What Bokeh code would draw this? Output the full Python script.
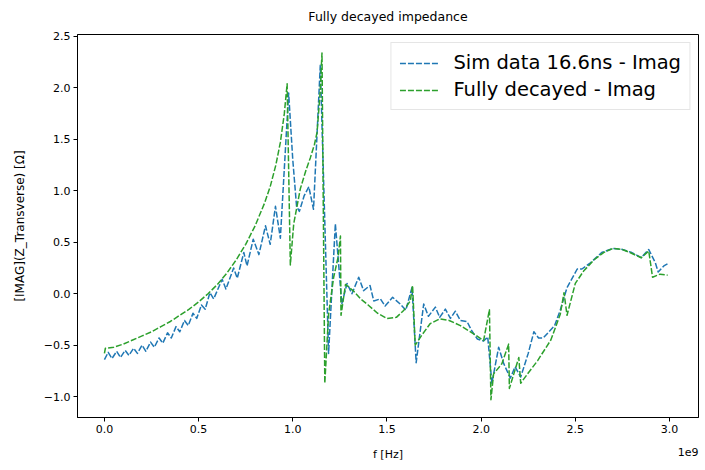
from bokeh.plotting import figure
from bokeh.models import Range1d, FixedTicker, Legend, LegendItem, Title, CustomJSTickFormatter
from bokeh.embed import file_html
from bokeh.resources import INLINE

# Frequency in units of 1e9 Hz
b_freq = [0.000, 0.02, 0.04, 0.065, 0.085, 0.11, 0.13, 0.155, 0.175, 0.20, 0.22, 0.245, 0.265,
          0.29, 0.31, 0.335, 0.355, 0.38, 0.40, 0.425, 0.445, 0.47, 0.49, 0.515, 0.535, 0.56,
          0.58, 0.625, 0.645, 0.686, 0.705, 0.74, 0.757, 0.79, 0.82, 0.855, 0.88, 0.908, 0.934,
          0.978, 1.0, 1.02, 1.035, 1.06, 1.085, 1.11, 1.146, 1.19, 1.226, 1.245, 1.26, 1.288,
          1.314, 1.35, 1.376, 1.41, 1.43, 1.465, 1.49, 1.53, 1.57, 1.60, 1.633, 1.655, 1.695,
          1.72, 1.757, 1.78, 1.81, 1.837, 1.863, 1.89, 1.925, 1.95, 1.98, 2.013, 2.035, 2.057,
          2.093, 2.12, 2.155, 2.18, 2.21, 2.25, 2.28, 2.305, 2.33, 2.36, 2.39, 2.42, 2.456,
          2.51, 2.535, 2.58, 2.64, 2.70, 2.75, 2.80, 2.85, 2.89, 2.925, 2.94, 2.97, 2.99]
b_imag = [-0.64, -0.57, -0.63, -0.56, -0.62, -0.55, -0.60, -0.53, -0.58, -0.50, -0.56, -0.47, -0.52,
          -0.43, -0.48, -0.38, -0.43, -0.32, -0.37, -0.26, -0.31, -0.19, -0.24, -0.11, -0.15, 0.01,
          -0.05, 0.14, 0.045, 0.25, 0.15, 0.40, 0.27, 0.53, 0.38, 0.66, 0.48, 0.85, 0.54,
          1.95, 1.30, 0.85, 0.80, 0.95, 1.04, 0.82, 2.22, -0.58, 0.68, 0.25, -0.10, 0.10,
          0.00, 0.16, 0.03, 0.08, -0.07, -0.05, -0.12, -0.035, -0.10, -0.16, 0.06, -0.67, -0.10,
          -0.22, -0.13, -0.23, -0.15, -0.24, -0.17, -0.26, -0.27, -0.36, -0.44, -0.46, -0.42, -0.87,
          -0.52, -0.68, -0.82, -0.71, -0.81, -0.58, -0.37, -0.43, -0.43, -0.37, -0.31, -0.16, 0.06,
          0.24, 0.24, 0.30, 0.40, 0.44, 0.43, 0.40, 0.35, 0.43, 0.30, 0.21, 0.27, 0.29]

g_freq = [0.000, 0.005, 0.05, 0.10, 0.15, 0.20, 0.25, 0.30, 0.35, 0.40, 0.45, 0.50, 0.55, 0.60,
          0.65, 0.70, 0.75, 0.80, 0.85, 0.88, 0.91, 0.934, 0.955, 0.970, 0.987, 1.005, 1.04,
          1.07, 1.093, 1.115, 1.129, 1.145, 1.155, 1.170, 1.19, 1.217, 1.24, 1.253, 1.256, 1.28,
          1.32, 1.36, 1.40, 1.45, 1.50, 1.55, 1.59, 1.624, 1.636, 1.650, 1.686, 1.73, 1.78, 1.83,
          1.89, 1.96, 2.013, 2.044, 2.052, 2.066, 2.11, 2.146, 2.15, 2.18, 2.20, 2.21, 2.25, 2.30,
          2.37, 2.42, 2.44, 2.456, 2.50, 2.544, 2.60, 2.65, 2.70, 2.75, 2.79, 2.85, 2.89, 2.91,
          2.95, 2.99]
g_imag = [-0.58, -0.53, -0.52, -0.49, -0.45, -0.41, -0.37, -0.32, -0.27, -0.21, -0.15, -0.08, 0.00,
          0.09, 0.20, 0.33, 0.48, 0.66, 0.88, 1.04, 1.25, 1.47, 1.75, 2.04, 0.28, 0.68, 1.02,
          1.20, 1.32, 1.45, 1.57, 1.95, 2.34, -0.87, -0.20, 0.16, 0.35, 0.56, -0.21, 0.09,
          0.03, -0.05, -0.11, -0.19, -0.24, -0.23, -0.16, -0.07, 0.08, -0.50, -0.40, -0.29, -0.245,
          -0.26, -0.31, -0.39, -0.455, -0.155, -1.03, -0.78, -0.68, -0.49, -0.92, -0.74, -0.62,
          -0.87, -0.77, -0.65, -0.45, -0.20, 0.01, -0.21, 0.10, 0.22, 0.33, 0.40, 0.44, 0.43, 0.40,
          0.35, 0.415, 0.16, 0.19, 0.18]

x_ticks = [0.0, 0.5, 1.0, 1.5, 2.0, 2.5, 3.0]
y_ticks = [-1.0, -0.5, 0.0, 0.5, 1.0, 1.5, 2.0, 2.5]

FONT = "DejaVu Sans"

p = figure(width=705, height=470, output_backend="svg", toolbar_location=None,
           x_range=Range1d(-0.143, 3.154), y_range=Range1d(-1.203, 2.519),
           min_border_left=77, min_border_right=7, min_border_top=32, min_border_bottom=53,
           title="Fully decayed impedance")
p.title.align = "center"
p.title.vertical_align = "top"
p.title.text_font = FONT
p.title.text_font_size = "12.5px"
p.title.text_font_style = "normal"
p.title.text_color = "black"
p.title.standoff = 17

p.grid.visible = False
p.outline_line_color = "black"
p.outline_line_alpha = 1
p.outline_line_width = 1
p.background_fill_color = "white"
p.border_fill_color = "white"

fmt = CustomJSTickFormatter(code="return (tick < 0 ? '\\u2212' : '') + Math.abs(tick).toFixed(1);")
for ax, ticks in ((p.xaxis[0], x_ticks), (p.yaxis[0], y_ticks)):
    ax.ticker = FixedTicker(ticks=ticks)
    ax.formatter = fmt
    ax.major_tick_in = 0
    ax.major_tick_out = 4
    ax.minor_tick_in = 0
    ax.minor_tick_out = 0
    ax.axis_line_color = "black"
    ax.major_tick_line_color = "black"
    ax.major_label_text_font = FONT
    ax.major_label_text_font_size = "11px"
    ax.major_label_text_color = "black"
    ax.major_label_standoff = 3
    ax.axis_label_text_font = FONT
    ax.axis_label_text_font_size = "11px"
    ax.axis_label_text_font_style = "normal"
    ax.axis_label_text_color = "black"

p.xaxis[0].axis_label = "f [Hz]"
p.xaxis[0].axis_label_standoff = 12
p.yaxis[0].axis_label = "[IMAG](Z_Transverse) [Ω]"
p.yaxis[0].axis_label_text_font_size = "12px"
p.yaxis[0].axis_label_standoff = 14

r1 = p.line(b_freq, b_imag, line_color="#1f77b4", line_width=1.5, line_dash="6 2", line_join="round")
r2 = p.line(g_freq, g_imag, line_color="#2ca02c", line_width=1.5, line_dash="6 2", line_join="round")

legend = Legend(items=[LegendItem(label="Sim data 16.6ns - Imag", renderers=[r1]),
                       LegendItem(label="Fully decayed - Imag", renderers=[r2])],
                location="top_right")
legend.label_text_font = FONT
legend.label_text_font_size = "19.5px"
legend.label_text_color = "black"
legend.glyph_width = 40
legend.glyph_height = 20
legend.label_height = 20
legend.label_standoff = 14
legend.padding = 8
legend.spacing = 4
legend.margin = 8
legend.border_line_color = "#cccccc"
legend.border_line_width = 1
legend.background_fill_color = "white"
legend.background_fill_alpha = 0.8
p.add_layout(legend)

offset_title = Title(text="1e9", align="right", vertical_align="top", standoff=-32,
                     text_font=FONT, text_font_size="11px", text_font_style="normal",
                     text_color="black")
p.add_layout(offset_title, "below")

open("out.html", "w").write(file_html(p, INLINE))
